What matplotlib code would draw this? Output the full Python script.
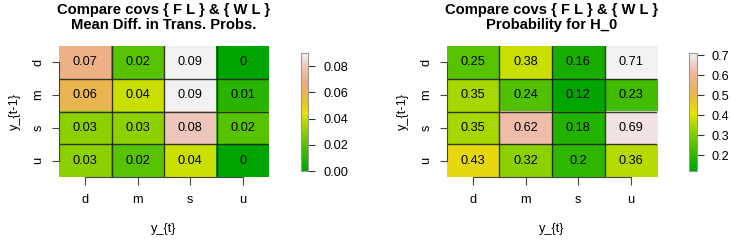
import colorsys
import numpy as np
import matplotlib
matplotlib.use('Agg')
import matplotlib.pyplot as plt
from matplotlib.colors import ListedColormap

plt.rcParams['font.family'] = ['Liberation Sans', 'DejaVu Sans']

states = ['d', 'm', 's', 'u']  # rows top->bottom = y_{t-1}, cols = y_{t}

mean_diff = [
    [0.07, 0.02, 0.09, 0.00],
    [0.06, 0.04, 0.09, 0.01],
    [0.03, 0.03, 0.08, 0.02],
    [0.03, 0.02, 0.04, 0.00],
]
prob_h0 = [
    [0.25, 0.38, 0.16, 0.71],
    [0.35, 0.24, 0.12, 0.23],
    [0.35, 0.62, 0.18, 0.69],
    [0.43, 0.32, 0.20, 0.36],
]
titles = ['Compare covs { F L } & { W L }\nMean Diff. in Trans. Probs.',
          'Compare covs { F L } & { W L }\nProbability for H_0']
cb_ticks = [[0.00, 0.02, 0.04, 0.06, 0.08],
            [0.2, 0.3, 0.4, 0.5, 0.6, 0.7]]
cb_fmt = ['{:.2f}', '{:.1f}']


def terrain_colors(n):
    # same recipe as R's terrain.colors()
    k = n // 2
    h1 = np.linspace(4 / 12, 2 / 12, k)
    s1 = np.linspace(1, 1, k)
    v1 = np.linspace(0.65, 0.9, k)
    h2 = np.linspace(2 / 12, 0, n - k + 1)[1:]
    s2 = np.linspace(1, 0, n - k + 1)[1:]
    v2 = np.linspace(0.9, 0.95, n - k + 1)[1:]
    hs = np.concatenate([h1, h2])
    ss = np.concatenate([s1, s2])
    vs = np.concatenate([v1, v2])
    return [colorsys.hsv_to_rgb(h, s, v) for h, s, v in zip(hs, ss, vs)]


cmap = ListedColormap(terrain_colors(64))

W, H = 731, 240
fig = plt.figure(figsize=(W / 100, H / 100), dpi=100)

img_left = [59, 447]
cb_left = [301, 689]
fs = 9.2

for i, data in enumerate([mean_diff, prob_h0]):
    z = np.array(data)
    ax = fig.add_axes([img_left[i] / W, (H - 177) / H, 210 / W, 131 / H])
    im = ax.imshow(z, cmap=cmap, vmin=z.min(), vmax=z.max(), aspect='auto',
                   extent=(-0.5, 3.5, 3.5, -0.5), interpolation='nearest')
    for b in [0.5, 1.5, 2.5]:
        ax.axhline(b, color='#1a1a1a', lw=1.0, alpha=0.85)
        ax.axvline(b, color='#1a1a1a', lw=1.0, alpha=0.85)
    for r in range(4):
        for c in range(4):
            ax.text(c, r, f'{z[r, c]:g}', ha='center', va='center', fontsize=fs)

    ax.set_xticks(range(4))
    ax.set_xticklabels(states)
    ax.set_yticks(range(4))
    ax.set_yticklabels(states, rotation=90, va='center')
    for sp in ['top', 'right']:
        ax.spines[sp].set_visible(False)
    ax.spines['bottom'].set_bounds(0, 3)
    ax.spines['left'].set_bounds(0, 3)
    for sp in ['bottom', 'left']:
        ax.spines[sp].set_color('#444444')
        ax.spines[sp].set_linewidth(0.8)
    ax.tick_params(axis='both', length=5.4, width=0.8, color='#444444', labelsize=fs)
    ax.tick_params(axis='x', pad=7)
    ax.tick_params(axis='y', pad=5)
    ax.set_xlabel('y_{t}', fontsize=fs, labelpad=12)
    ax.set_ylabel('y_{t-1}', fontsize=fs, labelpad=8)
    ax.set_title(titles[i], fontsize=10.6, fontweight='bold', pad=12, linespacing=1.1)

    cax = fig.add_axes([cb_left[i] / W, (H - 171) / H, 7.5 / W, 118 / H])
    cb = fig.colorbar(im, cax=cax)
    cb.set_ticks(cb_ticks[i])
    cb.set_ticklabels([cb_fmt[i].format(t) for t in cb_ticks[i]])
    cb.outline.set_edgecolor('#999999')
    cb.outline.set_linewidth(0.8)
    cax.tick_params(length=5, width=0.8, color='#333333', labelsize=fs, pad=6)

fig.savefig('out.png', dpi=100)
